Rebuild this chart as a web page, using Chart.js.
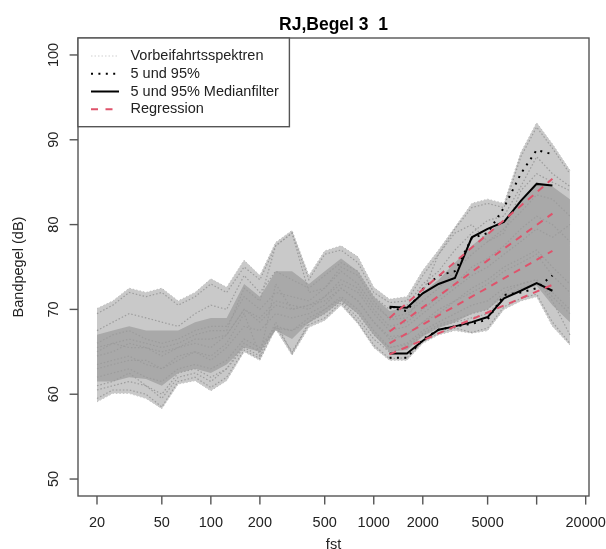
<!DOCTYPE html>
<html>
<head>
<meta charset="utf-8">
<script src="https://cdn.jsdelivr.net/npm/chart.js@4.4.1/dist/chart.umd.min.js"></script>
<style>
  html, body { margin: 0; padding: 0; background: #fff; }
  #wrap { width: 606px; height: 549px; }
</style>
</head>
<body>
<div id="wrap"><canvas id="chart" width="606" height="549"></canvas></div>
<script>
// third octave bands (Hz)
const freqs = [20, 25, 31.5, 40, 50, 63, 80, 100, 125, 160, 200, 250, 315, 400, 500,
  630, 800, 1000, 1250, 1600, 2000, 2500, 3150, 4000, 5000, 6300, 8000, 10000, 12500, 16000];

// outer envelope of all pass-by spectra
const envMax = [70.1, 71.0, 72.5, 72.0, 72.5, 71.0, 72.0, 73.6, 72.6, 75.8, 74.0, 77.9, 79.3, 74.0, 76.9,
  77.5, 76.2, 72.6, 71.2, 71.5, 74.6, 77.0, 79.7, 82.5, 83.0, 82.5, 88.5, 92.0, 89.5, 86.4];
const envMin = [59.1, 60.1, 60.1, 59.5, 58.3, 61.2, 61.6, 60.4, 61.6, 65.0, 64.0, 67.7, 64.6, 67.9, 68.7,
  70.5, 68.3, 65.5, 64.0, 64.0, 66.0, 67.0, 67.5, 67.2, 67.5, 70.0, 71.0, 71.5, 68.0, 65.8];
// dense core of the spectra
const coreHi = [67.0, 67.5, 68.0, 67.5, 67.5, 67.5, 68.5, 69.0, 69.0, 73.0, 71.5, 74.5, 74.5, 73.0, 74.5,
  76.0, 74.5, 71.5, 69.8, 70.2, 72.0, 73.5, 75.5, 77.5, 79.0, 80.5, 83.0, 85.0, 84.5, 83.0];
const coreLo = [61.5, 61.5, 62.0, 61.8, 61.0, 62.5, 63.0, 62.5, 63.5, 65.5, 65.0, 67.5, 66.5, 68.5, 69.5,
  71.0, 69.5, 67.0, 65.0, 65.2, 66.8, 67.8, 68.5, 69.5, 70.0, 71.5, 72.2, 72.8, 70.5, 68.5];

// single pass-by spectra (dB)
const spec01 = [69.5, 70.5, 72.0, 71.5, 72.0, 70.5, 71.5, 73.0, 72.0, 75.0, 73.5, 77.5, 79.0, 73.5, 76.5, 77.0, 75.5, 72.0, 70.8, 71.0, 74.0, 76.5, 79.5, 82.0, 82.5, 82.0, 88.0, 91.5, 89.0, 86.0];
const spec02 = [59.5, 60.5, 60.5, 60.0, 58.5, 61.5, 62.0, 60.8, 62.0, 65.2, 64.2, 68.0, 65.0, 68.2, 69.0, 70.8, 68.5, 65.8, 64.2, 64.3, 66.2, 67.2, 67.8, 67.3, 67.8, 70.3, 71.3, 71.8, 68.5, 66.0];
const spec03 = [66.0, 67.0, 67.5, 66.5, 66.0, 66.5, 67.5, 68.0, 68.0, 71.5, 70.0, 72.0, 71.5, 71.0, 72.5, 74.5, 73.0, 70.5, 69.0, 69.5, 71.0, 72.5, 74.5, 76.5, 78.0, 79.5, 81.5, 83.5, 83.0, 81.0];
const spec04 = [62.0, 62.5, 63.0, 62.0, 61.5, 63.0, 63.5, 63.0, 64.0, 66.5, 65.5, 68.0, 67.5, 69.0, 70.0, 71.5, 70.0, 67.5, 65.5, 66.0, 67.5, 68.5, 69.5, 70.5, 71.0, 72.5, 73.0, 73.5, 71.5, 69.5];
const spec05 = [64.5, 65.0, 66.0, 65.5, 64.5, 65.5, 66.0, 65.5, 67.0, 70.0, 68.5, 70.5, 70.0, 70.5, 71.5, 73.0, 72.0, 69.5, 67.5, 68.0, 69.5, 71.0, 72.5, 74.0, 75.0, 76.5, 78.0, 79.5, 78.5, 80.0];
const spec06 = [63.0, 63.5, 64.0, 64.0, 63.0, 64.0, 65.0, 64.5, 66.0, 69.5, 64.6, 73.0, 70.0, 70.5, 71.0, 72.5, 71.0, 68.5, 66.8, 67.0, 68.5, 70.0, 71.0, 72.5, 73.5, 75.0, 76.0, 77.0, 75.0, 73.0];
const spec07 = [65.0, 66.0, 66.5, 66.0, 65.5, 66.0, 67.0, 67.5, 67.5, 72.5, 71.0, 77.5, 79.0, 72.0, 72.5, 75.0, 74.0, 71.0, 68.8, 69.0, 72.0, 76.5, 79.0, 80.0, 78.0, 79.0, 84.0, 86.0, 85.0, 84.0];
const spec08 = [61.0, 61.5, 62.5, 61.0, 59.5, 62.0, 62.5, 61.5, 63.0, 65.5, 64.5, 68.5, 64.8, 68.5, 69.5, 71.0, 69.0, 66.5, 65.0, 65.5, 67.0, 68.0, 68.5, 69.0, 69.5, 71.5, 72.5, 73.0, 72.0, 70.0];
const spec09 = [67.5, 68.5, 69.5, 69.0, 68.5, 68.0, 69.5, 70.5, 70.0, 74.0, 72.0, 74.5, 73.5, 72.5, 74.0, 75.5, 74.5, 71.5, 70.0, 70.5, 73.0, 74.5, 77.0, 79.0, 80.5, 81.0, 84.5, 88.0, 86.0, 84.5];
const spec10 = [63.5, 64.0, 64.5, 63.5, 63.0, 64.5, 65.0, 64.0, 65.5, 68.0, 67.5, 69.5, 69.0, 69.5, 70.5, 72.5, 71.0, 68.5, 66.5, 67.0, 68.5, 69.5, 71.0, 72.0, 73.0, 74.5, 75.5, 76.5, 74.0, 72.0];
const spec11 = [65.5, 66.0, 65.5, 65.5, 65.0, 65.5, 66.5, 66.5, 67.0, 70.0, 69.0, 71.0, 70.5, 70.0, 71.5, 73.5, 72.5, 70.0, 68.0, 68.5, 70.0, 71.5, 73.0, 75.0, 76.0, 77.5, 79.5, 81.0, 80.0, 78.0];
const spec12 = [60.5, 61.0, 61.5, 61.0, 60.0, 62.5, 63.0, 62.0, 63.0, 66.0, 65.0, 67.8, 67.5, 68.5, 70.0, 71.2, 69.5, 67.0, 65.5, 65.8, 67.2, 68.2, 68.8, 69.5, 70.0, 72.0, 73.0, 73.5, 71.0, 67.0];
const spectra = [spec01, spec02, spec03, spec04, spec05, spec06, spec07, spec08, spec09, spec10, spec11, spec12];

// 5 / 95 % levels, raw and median filtered (1250 Hz .. 12500 Hz)
const pctFreqs = [1250, 1600, 2000, 2500, 3150, 4000, 5000, 6300, 8000, 10000, 12500];
const p95Raw = [70.2, 69.8, 72.4, 74.0, 74.5, 78.4, 79.0, 82.0, 86.0, 88.8, 88.3];
const p05Raw = [64.3, 64.3, 66.5, 67.6, 68.0, 68.3, 68.8, 71.7, 72.0, 72.5, 74.0];
const p95Med = [70.3, 70.2, 71.9, 73.0, 73.7, 78.5, 79.5, 80.3, 82.8, 84.8, 84.6];
const p05Med = [64.8, 64.8, 66.3, 67.6, 68.0, 68.5, 69.1, 71.3, 72.2, 73.1, 72.2];

// regression lines (start / end)
const regFreqs = [1250, 12500];
const reg1 = [69.0, 85.4];
const reg2 = [67.4, 81.3];
const reg3 = [66.0, 76.9];
const reg4 = [64.7, 72.9];

// axis ticks
const xTicks = [20, 50, 100, 200, 500, 1000, 2000, 5000, 10000, 20000];
const xTickLabels = ["20", "50", "100", "200", "500", "1000", "2000", "5000", "", "20000"];
const yTicks = [50, 60, 70, 80, 90, 100];

const pts = (xs, ys) => xs.map((f, i) => ({ x: f, y: ys[i] }));
const FONT = '"Liberation Sans", Arial, Helvetica, sans-serif';
const RED = "#DF536B";

const datasets = [];
datasets.push({ data: pts(freqs, envMax), borderColor: "#BDBDBD", borderWidth: 1, borderDash: [1.5, 2], backgroundColor: "#C9C9C9", fill: "+1", order: 20 });
datasets.push({ data: pts(freqs, envMin), borderColor: "#BDBDBD", borderWidth: 1, borderDash: [1.5, 2], fill: false, order: 20 });
datasets.push({ data: pts(freqs, coreHi), borderColor: "transparent", borderWidth: 0, backgroundColor: "#A9A9A9", fill: "+1", order: 19 });
datasets.push({ data: pts(freqs, coreLo), borderColor: "transparent", borderWidth: 0, fill: false, order: 19 });
spectra.forEach((s) => {
  datasets.push({ data: pts(freqs, s), borderColor: "#9C9C9C", borderWidth: 1.2, borderDash: [1.5, 2], fill: false, order: 10 });
});
datasets.push({ data: pts(pctFreqs, p95Raw), borderColor: "#000", borderWidth: 2, borderDash: [2, 5.4], fill: false, order: 4 });
datasets.push({ data: pts(pctFreqs, p05Raw), borderColor: "#000", borderWidth: 2, borderDash: [2, 5.4], fill: false, order: 4 });
datasets.push({ data: pts(pctFreqs, p95Med), borderColor: "#000", borderWidth: 2, fill: false, order: 3 });
datasets.push({ data: pts(pctFreqs, p05Med), borderColor: "#000", borderWidth: 2, fill: false, order: 3 });
[reg1, reg2, reg3, reg4].forEach((r) => {
  datasets.push({ data: pts(regFreqs, r), borderColor: RED, borderWidth: 2, borderDash: [7, 6], fill: false, order: 1 });
});

// R style frame, axes, title and legend
const rFrame = {
  id: "rFrame",
  afterDraw(chart) {
    const { ctx, chartArea: a, scales } = chart;
    const x = scales.x, y = scales.y;
    ctx.save();
    ctx.strokeStyle = "#555";
    ctx.lineWidth = 1.4;
    ctx.setLineDash([]);
    ctx.strokeRect(a.left, a.top, a.right - a.left, a.bottom - a.top);

    ctx.fillStyle = "#222";
    ctx.font = "14.5px " + FONT;
    ctx.textAlign = "center";
    ctx.textBaseline = "middle";
    xTicks.forEach((v, i) => {
      const px = x.getPixelForValue(v);
      ctx.beginPath();
      ctx.moveTo(px, a.bottom);
      ctx.lineTo(px, a.bottom + 8.6);
      ctx.stroke();
      if (xTickLabels[i]) ctx.fillText(xTickLabels[i], px, a.bottom + 27);
    });
    yTicks.forEach((v) => {
      const py = y.getPixelForValue(v);
      ctx.beginPath();
      ctx.moveTo(a.left - 8.4, py);
      ctx.lineTo(a.left, py);
      ctx.stroke();
      ctx.save();
      ctx.translate(a.left - 24.5, py);
      ctx.rotate(-Math.PI / 2);
      ctx.fillText(String(v), 0, 0);
      ctx.restore();
    });

    ctx.fillText("fst", (a.left + a.right) / 2, a.bottom + 49);
    ctx.save();
    ctx.translate(19, (a.top + a.bottom) / 2);
    ctx.rotate(-Math.PI / 2);
    ctx.fillText("Bandpegel (dB)", 0, 0);
    ctx.restore();

    ctx.font = "bold 17.5px " + FONT;
    ctx.fillStyle = "#000";
    ctx.fillText("RJ,Begel 3  1", (a.left + a.right) / 2, 25);

    // legend box
    ctx.fillStyle = "#fff";
    ctx.fillRect(a.left, a.top, 289.4 - a.left, 126.7 - a.top);
    ctx.strokeStyle = "#555";
    ctx.lineWidth = 1.4;
    ctx.strokeRect(a.left, a.top, 289.4 - a.left, 126.7 - a.top);
    const items = [
      { text: "Vorbeifahrtsspektren", color: "#CFCFCF", w: 1, dash: [1.5, 2] },
      { text: "5 und 95%", color: "#000", w: 2, dash: [2, 5.4] },
      { text: "5 und 95% Medianfilter", color: "#000", w: 2, dash: [] },
      { text: "Regression", color: RED, w: 2, dash: [7, 7.5] }
    ];
    ctx.font = "14.5px " + FONT;
    ctx.textAlign = "left";
    items.forEach((it, i) => {
      const ly = 56 + i * 17.75;
      ctx.strokeStyle = it.color;
      ctx.lineWidth = it.w;
      ctx.setLineDash(it.dash);
      ctx.beginPath();
      ctx.moveTo(91, ly);
      ctx.lineTo(119, ly);
      ctx.stroke();
      ctx.fillStyle = "#222";
      ctx.fillText(it.text, 130.5, ly);
    });
    ctx.restore();
  }
};

new Chart(document.getElementById("chart"), {
  type: "line",
  data: { datasets },
  options: {
    responsive: false,
    devicePixelRatio: 1,
    animation: false,
    layout: { padding: { left: 78, right: 17, top: 38, bottom: 53 } },
    elements: { point: { radius: 0 }, line: { tension: 0 } },
    plugins: { legend: { display: false }, tooltip: { enabled: false }, title: { display: false } },
    scales: {
      x: { type: "logarithmic", min: 15.29, max: 20960, display: false },
      y: { type: "linear", min: 48, max: 102, display: false }
    }
  },
  plugins: [rFrame]
});
</script>
</body>
</html>
